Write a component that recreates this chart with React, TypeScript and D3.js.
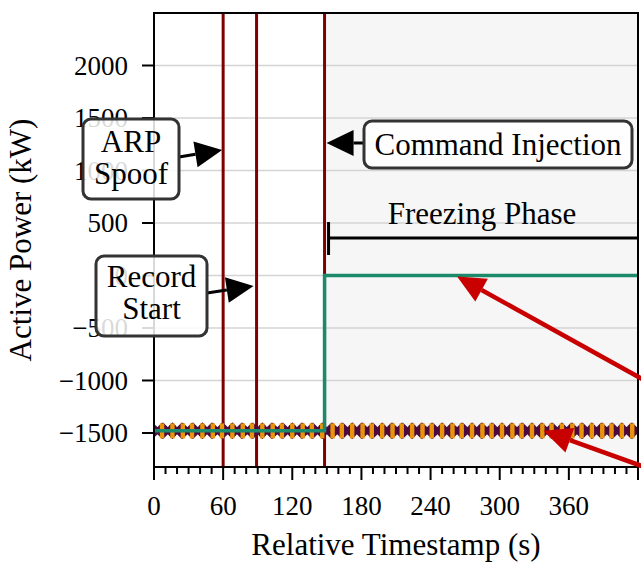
import React, { useRef, useEffect } from 'react';
import * as d3 from 'd3';

// measured active power (kW) at the sampled timestamps (s)
const purpleTimes = [3, 12, 20, 29, 38, 46, 55, 64, 72, 81, 90, 98, 107, 116, 124, 133, 142, 150, 159, 168, 176, 185, 194, 202, 211, 220, 228, 237, 246, 254, 263, 272, 280, 289, 298, 306, 315, 324, 332, 341, 350, 358, 367, 376, 384, 393, 402, 410, 419];
const purpleValues = [-1478, -1478, -1478, -1478, -1478, -1478, -1478, -1478, -1478, -1478, -1478, -1478, -1478, -1478, -1478, -1478, -1478, -1478, -1478, -1478, -1478, -1478, -1478, -1478, -1478, -1478, -1478, -1478, -1478, -1478, -1478, -1478, -1478, -1478, -1478, -1478, -1478, -1478, -1478, -1478, -1478, -1478, -1478, -1478, -1478, -1478, -1478, -1478, -1478];
const orangeTimes = [7, 16, 25, 33, 42, 51, 59, 68, 77, 85, 94, 103, 111, 120, 129, 137, 146, 155, 163, 172, 181, 189, 198, 207, 215, 224, 233, 241, 250, 259, 267, 276, 285, 293, 302, 311, 319, 328, 337, 345, 354, 363, 371, 380, 389, 397, 406, 415];
const orangeValues = [-1480, -1480, -1480, -1480, -1480, -1480, -1480, -1480, -1480, -1480, -1480, -1480, -1480, -1480, -1480, -1480, -1480, -1480, -1480, -1480, -1480, -1480, -1480, -1480, -1480, -1480, -1480, -1480, -1480, -1480, -1480, -1480, -1480, -1480, -1480, -1480, -1480, -1480, -1480, -1480, -1480, -1480, -1480, -1480, -1480, -1480, -1480, -1480];
// setpoint (green step)
const setTimes = [0, 148, 148, 420];
const setValues = [-1478, -1478, 0, 0];
// event markers (s): ARP spoof, record start, command injection
const eventTimes = [60, 89, 148];
const yTicks = [-1500, -1000, -500, 0, 500, 1000, 1500, 2000];
const xTicks = [0, 60, 120, 180, 240, 300, 360];

const FONT = '"Liberation Serif", "Times New Roman", serif';

const App = () => {
  const ref = useRef<SVGSVGElement>(null);

  useEffect(() => {
    const svg = d3.select(ref.current);
    svg.selectAll('*').remove();
    const width = 641;
    const height = 562;
    const left = 154, right = 638, top = 13, bottom = 467;

    const x = d3.scaleLinear().domain([0, 420]).range([left, right]);
    const y = d3.scaleLinear().domain([-1824, 2500]).range([bottom, top]);

    svg.attr('width', width).attr('height', height);

    svg.append('defs').append('clipPath').attr('id', 'plot')
      .append('rect').attr('x', left).attr('y', top)
      .attr('width', right - left).attr('height', bottom - top);

    const plot = svg.append('g').attr('clip-path', 'url(#plot)');

    // white background, shaded freezing phase
    plot.append('rect').attr('x', left).attr('y', top)
      .attr('width', right - left).attr('height', bottom - top).attr('fill', '#fff');
    plot.append('rect').attr('x', x(eventTimes[2])).attr('y', top)
      .attr('width', x(420) - x(eventTimes[2])).attr('height', bottom - top)
      .attr('fill', '#f6f6f6');

    // grid
    plot.selectAll('.grid').data(yTicks).enter().append('line')
      .attr('x1', left).attr('x2', right)
      .attr('y1', (d) => y(d)).attr('y2', (d) => y(d))
      .attr('stroke', '#d4d4d4').attr('stroke-width', 1.5);

    // event lines
    plot.selectAll('.ev').data(eventTimes).enter().append('line')
      .attr('x1', (d) => x(d)).attr('x2', (d) => x(d))
      .attr('y1', top).attr('y2', bottom)
      .attr('stroke', '#800000').attr('stroke-width', 3);

    // purple X markers
    const xSym = d3.symbol().type(d3.symbolX).size(110);
    plot.selectAll('.pm').data(purpleTimes).enter().append('path')
      .attr('d', xSym)
      .attr('transform', (d, i) => `translate(${x(d)},${y(purpleValues[i])})`)
      .attr('fill', 'none').attr('stroke', '#4d0a40').attr('stroke-width', 5);

    // orange bar markers
    plot.selectAll('.om').data(orangeTimes).enter().append('rect')
      .attr('x', (d) => x(d) - 2.2).attr('y', (d, i) => y(orangeValues[i]) - 7.5)
      .attr('width', 4.4).attr('height', 15)
      .attr('fill', '#e8950c');

    // setpoint
    const line = d3.line<number>().x((d) => x(d)).y((d, i) => y(setValues[i]));
    plot.append('path').datum(setTimes).attr('d', line)
      .attr('fill', 'none').attr('stroke', '#1b8a6b').attr('stroke-width', 3.5);

    // spines
    svg.append('rect').attr('x', left).attr('y', top)
      .attr('width', right - left).attr('height', bottom - top)
      .attr('fill', 'none').attr('stroke', '#000').attr('stroke-width', 2);

    // y axis
    const yAxis = svg.append('g');
    yAxis.selectAll('line').data(yTicks).enter().append('line')
      .attr('x1', left - 12).attr('x2', left)
      .attr('y1', (d) => y(d)).attr('y2', (d) => y(d))
      .attr('stroke', '#000').attr('stroke-width', 2);
    yAxis.selectAll('text').data(yTicks).enter().append('text')
      .attr('x', left - 26).attr('y', (d) => y(d)).attr('dy', '0.34em')
      .attr('text-anchor', 'end')
      .style('font-family', FONT).style('font-size', '27px')
      .text((d) => (d < 0 ? '\u2212' + Math.abs(d) : String(d)));

    // x axis
    const xAxis = svg.append('g');
    xAxis.selectAll('.minor').data(d3.range(0, 421, 10)).enter().append('line')
      .attr('x1', (d) => x(d)).attr('x2', (d) => x(d))
      .attr('y1', bottom).attr('y2', (d) => bottom + (d % 60 === 0 ? 13 : 7))
      .attr('stroke', '#000').attr('stroke-width', 2);
    xAxis.selectAll('text').data(xTicks).enter().append('text')
      .attr('x', (d) => x(d)).attr('y', 515)
      .attr('text-anchor', 'middle')
      .style('font-family', FONT).style('font-size', '27px')
      .text((d) => d);

    svg.append('text').attr('x', (left + right) / 2).attr('y', 555)
      .attr('text-anchor', 'middle')
      .style('font-family', FONT).style('font-size', '31px')
      .text('Relative Timestamp (s)');
    svg.append('text')
      .attr('transform', `translate(31,${(top + bottom) / 2}) rotate(-90)`)
      .attr('text-anchor', 'middle')
      .style('font-family', FONT).style('font-size', '31px')
      .text('Active Power (kW)');

    // freezing phase bracket
    const fx = x(eventTimes[2]) + 4;
    svg.append('line').attr('x1', fx).attr('x2', right).attr('y1', 238).attr('y2', 238)
      .attr('stroke', '#000').attr('stroke-width', 3);
    svg.append('line').attr('x1', fx).attr('x2', fx).attr('y1', 222).attr('y2', 255)
      .attr('stroke', '#000').attr('stroke-width', 3);
    svg.append('text').attr('x', 482).attr('y', 224).attr('text-anchor', 'middle')
      .style('font-family', FONT).style('font-size', '31px')
      .text('Freezing Phase');

    const arrow = (x1, y1, x2, y2, color, w, hl, hw) => {
      const a = Math.atan2(y2 - y1, x2 - x1);
      const bx = x2 - hl * Math.cos(a);
      const by = y2 - hl * Math.sin(a);
      svg.append('line').attr('x1', x1).attr('y1', y1).attr('x2', bx).attr('y2', by)
        .attr('stroke', color).attr('stroke-width', w);
      const px = -Math.sin(a) * hw, py = Math.cos(a) * hw;
      svg.append('path')
        .attr('d', `M${x2},${y2}L${bx + px},${by + py}L${bx - px},${by - py}Z`)
        .attr('fill', color);
    };

    // annotation boxes
    const box = (cx, cy, w, h, lines, baselines, tip) => {
      arrow(tip[0], tip[1], tip[2], tip[3], '#000', 3, 27, 13);
      svg.append('rect').attr('x', cx - w / 2).attr('y', cy - h / 2)
        .attr('width', w).attr('height', h).attr('rx', 8)
        .attr('fill', '#fff').attr('fill-opacity', 0.85)
        .attr('stroke', '#333').attr('stroke-width', 3);
      lines.forEach((t, i) => {
        svg.append('text').attr('x', cx).attr('y', baselines[i]).attr('text-anchor', 'middle')
          .style('font-family', FONT).style('font-size', '31px').text(t);
      });
    };

    box(131, 159, 96, 80, ['ARP', 'Spoof'], [152, 184], [179, 157, x(eventTimes[0]) - 1, 150]);
    box(151.5, 296, 111, 80, ['Record', 'Start'], [287, 319], [207, 293, x(eventTimes[1]) - 3, 286]);
    box(498, 144.5, 268, 47, ['Command Injection'], [155], [364, 143, x(eventTimes[2]) + 2, 143]);

    // red pointer arrows
    arrow(700, 411, x(263), y(0) + 1, '#c80000', 4.5, 28, 13);
    arrow(700, 487, x(338), y(-1478), '#c80000', 4.5, 28, 13);
  }, []);

  return (
    <svg ref={ref} style={{ position: 'absolute', left: 0, top: 0 }}></svg>
  );
};

export default App;
